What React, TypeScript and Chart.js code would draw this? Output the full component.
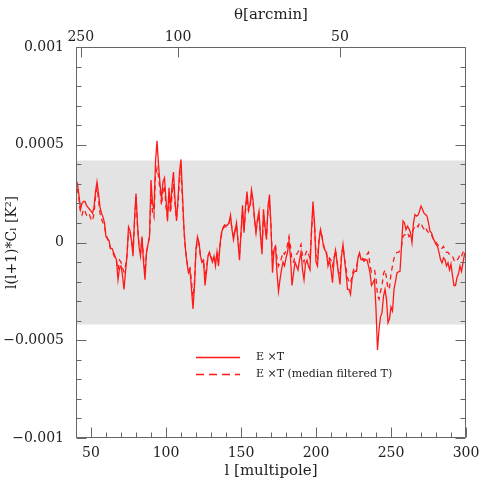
import { useEffect, useRef } from "react";
import { Chart, registerables } from "chart.js";

Chart.register(...registerables);

// Multipole range (x axis)
const L_MIN = 40;
const L_MAX = 300;
const multipoles = Array.from({ length: L_MAX - L_MIN + 1 }, (_, i) => L_MIN + i);

// E x T cross spectrum, units of 1e-4 K^2, l = 40..300
const exT = [
  3.2, 3.0, 2.4, 1.7, 2.0, 2.1, 2.1, 1.9, 1.8, 1.7,
  1.6, 1.5, 1.8, 2.6, 3.1, 2.5, 1.8, 1.5, 1.3, 1.0,
  0.3, 0.2, 0.1, -0.3, -0.3, -0.5, -0.7, -0.9, -1.9, -1.3,
  -1.2, -1.7, -2.4, -1.5, -0.7, 0.8, 0.6, 0.1, -0.7, 1.2,
  2.5, 0.9, -0.2, -0.7, 0.3, -1.0, -1.9, -0.5, -0.1, 0.3,
  3.2, 2.0, 1.7, 4.1, 5.2, 4.0, 3.0, 2.2, 3.1, 3.3,
  2.2, 1.1, 2.8, 1.7, 2.9, 3.6, 2.2, 1.1, 2.2, 3.6,
  4.25, 2.4, 0.66, -0.36, -1.04, -1.55, -1.4, -2.4, -3.4, -2.2,
  -0.3, 0.3, 0.0, -0.7, -1.0, -0.9, -2.2, -1.5, -0.7, -0.5,
  -0.8, -1.0, -0.7, -1.2, -0.5, -1.2, -0.1, 0.5, 0.75, 0.9,
  0.85, 0.9, 1.0, 1.4, 0.66, 0.15, 0.6, 1.0, 0.0, -0.9,
  0.5, 1.9, 0.5, 1.8, 2.6, 1.7, 1.9, 2.7, 2.2, 1.2,
  0.5, 1.2, 1.6, 0.3, -0.6, 1.7, 0.8, 0.15, 1.86, 2.45,
  0.8, -1.55, -0.36, -0.2, -1.55, -2.5, -1.9, -1.4, -1.0, -1.2,
  -0.8, -0.5, 0.1, -0.8, -2.2, -1.6, -1.0, -1.2, -1.4, -0.9,
  -0.5, -1.4, -1.9, -1.1, -0.9, -1.2, -1.4, 0.66, 2.1, 1.0,
  -1.0, -1.2, 0.1, 0.66, 0.3, -0.2, -0.4, -0.5, -1.2, -0.9,
  -1.4, -2.06, -0.87, -0.4, -1.0, -1.6, -2.15, -0.7, -0.1, -0.87,
  -1.55, -2.4, -2.4, -2.66, -1.9, -1.55, -1.47, -1.47, -0.78, -0.53,
  -0.87, -0.87, -0.96, -0.87, -0.9, -1.2, -1.55, -2.2, -2.06, -1.9,
  -3.4, -5.5, -4.45, -3.8, -3.6, -2.75, -2.4, -2.9, -4.1, -3.9,
  -3.3, -3.5, -2.4, -2.0, -1.55, -1.5, -1.47, -0.2, 1.1, 1.0,
  0.66, 0.83, 0.7, 0.5, 0.0, 1.0, 1.43, 1.35, 1.4, 1.6,
  1.86, 1.7, 1.5, 1.43, 1.35, 1.0, 0.58, 0.5, 0.24, 0.07,
  -0.1, -0.19, -0.5, -0.87, -1.04, -0.78, -0.87, -1.2, -1.04, -1.4,
  -1.1, -1.7, -2.2, -2.2, -1.8, -1.6, -1.2, -1.47, -1.04, -0.6,
  -0.45,
];

// E x T with median filtered T, units of 1e-4 K^2, l = 40..300
const exTMedian = [
  2.7, 2.7, 2.2, 1.5, 1.4, 1.7, 1.6, 1.4, 1.3, 1.4,
  1.2, 1.1, 1.5, 2.3, 2.8, 2.2, 1.5, 1.2, 1.0, 0.8,
  0.4, 0.2, 0.0, -0.3, -0.4, -0.6, -0.8, -1.0, -1.4, -0.9,
  -1.0, -1.3, -1.5, -1.2, -0.6, 0.5, 0.5, 0.1, -0.5, 1.0,
  2.3, 0.9, -0.1, -0.5, 0.2, -0.8, -1.5, -0.5, -0.1, 0.3,
  2.5, 1.6, 1.3, 3.4, 3.8, 3.4, 2.7, 1.9, 2.6, 2.9,
  1.8, 1.3, 2.4, 1.5, 2.4, 3.0, 2.0, 1.2, 2.0, 3.2,
  3.6, 2.2, 0.6, -0.4, -1.0, -1.4, -1.3, -2.0, -2.8, -2.0,
  -0.4, 0.1, -0.1, -0.7, -1.0, -0.9, -1.8, -1.3, -0.7, -0.5,
  -0.7, -0.9, -0.7, -1.0, -0.6, -1.0, -0.2, 0.4, 0.7, 0.8,
  0.8, 0.9, 1.0, 1.2, 0.7, 0.3, 0.6, 0.9, 0.1, -0.6,
  0.4, 1.6, 0.6, 1.6, 2.3, 1.6, 1.8, 2.4, 2.0, 1.2,
  0.6, 1.1, 1.4, 0.4, -0.3, 1.4, 0.8, 0.3, 1.6, 2.1,
  0.8, -1.0, -0.3, -0.2, -0.8, -1.2, -1.0, -0.8, -0.5, -0.6,
  -0.4, -0.1, 0.3, -0.2, -0.9, -1.0, -0.7, -0.6, -0.5, -0.3,
  -0.1, -0.7, -1.0, -0.6, -0.4, -0.6, -0.8, 0.5, 1.7, 1.0,
  -0.6, -0.8, 0.1, 0.6, 0.3, -0.1, -0.4, -0.6, -0.9, -0.8,
  -0.9, -1.2, -0.8, -0.4, -0.9, -1.5, -1.6, -0.7, -0.2, -0.8,
  -1.3, -1.8, -2.0, -2.1, -1.7, -1.4, -1.3, -1.3, -0.8, -0.6,
  -0.8, -0.8, -0.9, -0.8, -0.6, -0.5, -1.2, -1.5, -1.4, -1.4,
  -1.8, -2.7, -2.9, -2.5, -2.2, -1.6, -1.4, -1.8, -2.4, -2.3,
  -1.6, -1.2, -0.8, -0.6, -0.5, -0.5, -0.4, -0.2, 0.3, 0.4,
  0.4, 0.5, 0.3, 0.4, 0.5, 0.7, 0.8, 0.9, 0.8, 1.0,
  1.0, 0.8, 0.7, 0.8, 0.6, 0.5, 0.4, 0.4, 0.2, 0.2,
  0.0, -0.1, -0.2, -0.3, -0.3, -0.2, -0.4, -0.5, -0.5, -0.6,
  -0.6, -0.7, -0.9, -1.0, -0.9, -0.8, -0.6, -0.7, -0.5, -0.4,
  -0.3,
];

const VALUE_UNIT = 1e-4;

const xTickValues = [50, 100, 150, 200, 250, 300];
const xMinorStep = 10;
const yTickValues = [-0.001, -0.0005, 0, 0.0005, 0.001];
const yTickLabels = ["\u22120.001", "\u22120.0005", "0", "0.0005", "0.001"];
const yMinorStep = 0.0001;
const thetaTicks = [250, 100, 50]; // arcmin
const ARCMIN_PER_RADIAN_TIMES_PI = 10800; // l = 180*60 / theta[arcmin]
const bandHalfWidth = 0.00042;
const legendLabels = ["E \u00d7T", "E \u00d7T (median filtered T)"];

const FONT = "'DejaVu Serif', 'Liberation Serif', serif";
const TEXT = "#222";
const AXIS = "#666";
const RED = "#ff1a1a";

const frameTicksPlugin = {
  id: "frameTicks",
  afterDatasetsDraw(chart: any) {
    const { ctx, chartArea, scales } = chart;
    const { left, right, top, bottom } = chartArea;
    const xs = scales.x;
    const ys = scales.y;
    const xt = scales.xTop;
    const L = Math.round(left) + 0.5;
    const R = Math.round(right) - 0.5;
    const T = Math.round(top) + 0.5;
    const B = Math.round(bottom) - 0.5;
    ctx.save();
    ctx.strokeStyle = AXIS;
    ctx.lineWidth = 1;
    ctx.beginPath();
    ctx.rect(L, T, R - L, B - T);
    // bottom ticks
    for (let l = L_MIN; l <= L_MAX; l += xMinorStep) {
      const px = Math.round(xs.getPixelForValue(l)) + 0.5;
      const len = xTickValues.includes(l) ? 10 : 5;
      ctx.moveTo(px, B);
      ctx.lineTo(px, B - len);
    }
    // left & right ticks
    const yMin = yTickValues[0];
    const yMax = yTickValues[yTickValues.length - 1];
    const n = Math.round((yMax - yMin) / yMinorStep);
    for (let k = 0; k <= n; k++) {
      const v = yMin + k * yMinorStep;
      const py = Math.round(ys.getPixelForValue(v)) + 0.5;
      const len = k % 5 === 0 ? 10 : 5;
      ctx.moveTo(L, py);
      ctx.lineTo(L + len, py);
      ctx.moveTo(R, py);
      ctx.lineTo(R - len, py);
    }
    // top ticks (theta)
    thetaTicks.forEach((t) => {
      const px = Math.round(xt.getPixelForValue(ARCMIN_PER_RADIAN_TIMES_PI / t)) + 0.5;
      ctx.moveTo(px, T);
      ctx.lineTo(px, T + 10);
    });
    ctx.stroke();
    ctx.restore();
  },
};

const legendPlugin = {
  id: "customLegend",
  afterDraw(chart: any) {
    const { ctx, chartArea } = chart;
    const x0 = chartArea.left + 120;
    const x1 = x0 + 44;
    const tx = x1 + 16;
    const rows = [chartArea.top + 310, chartArea.top + 327];
    ctx.save();
    ctx.strokeStyle = RED;
    ctx.lineWidth = 1.3;
    ctx.font = `11px ${FONT}`;
    ctx.fillStyle = TEXT;
    ctx.textBaseline = "middle";
    rows.forEach((y, i) => {
      ctx.setLineDash(i === 0 ? [] : [8, 5]);
      ctx.beginPath();
      ctx.moveTo(x0, y + 0.5);
      ctx.lineTo(x1, y + 0.5);
      ctx.stroke();
      ctx.fillText(legendLabels[i], tx, y);
    });
    ctx.restore();
  },
};

export default function App() {
  const ref = useRef<HTMLCanvasElement | null>(null);
  useEffect(() => {
    document.body.style.margin = "0";
    const canvas = ref.current;
    if (!canvas) return;
    const chart = new Chart(canvas, {
      type: "line",
      data: {
        datasets: [
          {
            label: legendLabels[0],
            data: multipoles.map((l, i) => ({ x: l, y: exT[i] * VALUE_UNIT })),
            borderColor: RED,
            borderWidth: 1.3,
            pointRadius: 0,
            tension: 0,
            fill: false,
            order: 0,
          },
          {
            label: legendLabels[1],
            data: multipoles.map((l, i) => ({ x: l, y: exTMedian[i] * VALUE_UNIT })),
            borderColor: RED,
            borderWidth: 1.3,
            borderDash: [5, 4],
            pointRadius: 0,
            tension: 0,
            fill: false,
            order: 1,
          },
          {
            label: "band",
            data: [
              { x: L_MIN, y: bandHalfWidth },
              { x: L_MAX, y: bandHalfWidth },
            ],
            borderWidth: 0,
            borderColor: "rgba(0,0,0,0)",
            backgroundColor: "#e3e3e3",
            pointRadius: 0,
            fill: { value: -bandHalfWidth },
            order: 5,
          },
        ],
      },
      options: {
        responsive: false,
        animation: false,
        layout: { padding: { left: 0, right: 25, top: 0, bottom: 0 } },
        plugins: {
          legend: { display: false },
          tooltip: { enabled: false },
          title: { display: false },
        },
        scales: {
          x: {
            type: "linear",
            position: "bottom",
            min: L_MIN,
            max: L_MAX,
            grid: { display: false, drawTicks: false },
            border: { display: false },
            afterBuildTicks: (s: any) => {
              s.ticks = xTickValues.map((v) => ({ value: v }));
            },
            afterFit: (s: any) => {
              s.height = 53;
            },
            ticks: {
              padding: 7,
              maxRotation: 0,
              autoSkip: false,
              color: TEXT,
              font: { family: FONT, size: 14 },
              callback: (v: any) => String(v),
            },
            title: {
              display: true,
              text: "l [multipole]",
              color: TEXT,
              font: { family: FONT, size: 15 },
              padding: { top: 0, bottom: 11 },
            },
          },
          xTop: {
            type: "linear",
            position: "top",
            min: L_MIN,
            max: L_MAX,
            grid: { display: false, drawTicks: false },
            border: { display: false },
            afterBuildTicks: (s: any) => {
              s.ticks = thetaTicks.map((t) => ({ value: ARCMIN_PER_RADIAN_TIMES_PI / t }));
            },
            afterFit: (s: any) => {
              s.height = 47;
            },
            ticks: {
              padding: 1,
              maxRotation: 0,
              autoSkip: false,
              color: TEXT,
              font: { family: FONT, size: 14 },
              callback: (_v: any, i: number) => String(thetaTicks[i]),
            },
            title: {
              display: true,
              text: "\u03b8[arcmin]",
              color: TEXT,
              font: { family: FONT, size: 15 },
              padding: { top: 6, bottom: 0 },
            },
          },
          y: {
            type: "linear",
            position: "left",
            min: yTickValues[0],
            max: yTickValues[yTickValues.length - 1],
            grid: { display: false, drawTicks: false },
            border: { display: false },
            afterBuildTicks: (s: any) => {
              s.ticks = yTickValues.map((v) => ({ value: v }));
            },
            afterFit: (s: any) => {
              s.width = 76;
            },
            ticks: {
              padding: 12,
              autoSkip: false,
              color: TEXT,
              font: { family: FONT, size: 14 },
              callback: (_v: any, i: number) => yTickLabels[i],
            },
            title: {
              display: true,
              text: "l(l+1)*C\u2097 [K\u00b2]",
              color: TEXT,
              font: { family: FONT, size: 14 },
              padding: { top: 4, bottom: 0 },
            },
          },
        },
      },
      plugins: [frameTicksPlugin, legendPlugin],
    } as any);
    return () => chart.destroy();
  }, []);
  return <canvas ref={ref} width={491} height={491} style={{ display: "block" }} />;
}
